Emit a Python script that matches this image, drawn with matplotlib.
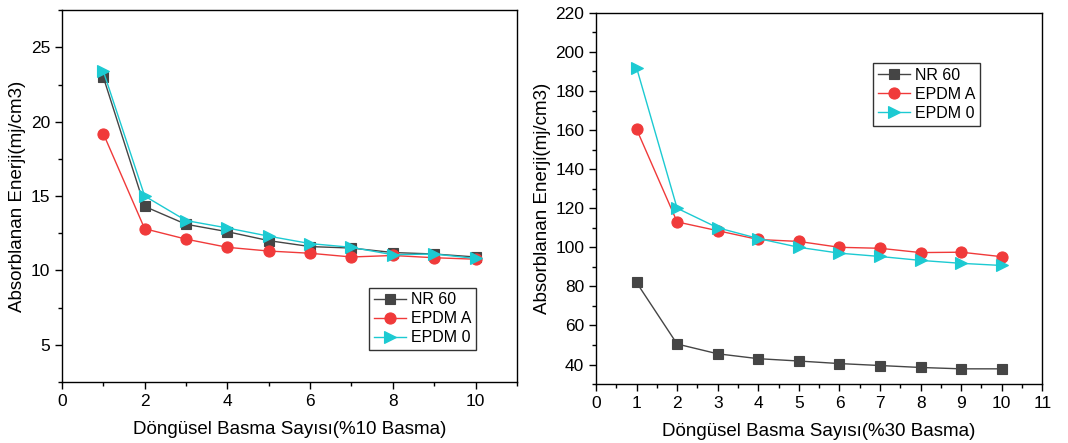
import matplotlib
matplotlib.use("Agg")
import matplotlib.pyplot as plt
from matplotlib.ticker import MultipleLocator

plt.rcParams['font.family'] = ['Liberation Sans', 'DejaVu Sans']

cycles = [1, 2, 3, 4, 5, 6, 7, 8, 9, 10]
series_names = ["NR 60", "EPDM A", "EPDM 0"]

# %10 Basma
left_nr60 = [23.0, 14.3, 13.1, 12.6, 12.0, 11.6, 11.5, 11.2, 11.1, 10.9]
left_epdma = [19.2, 12.8, 12.1, 11.55, 11.3, 11.15, 10.9, 11.0, 10.85, 10.75]
left_epdm0 = [23.4, 15.0, 13.35, 12.85, 12.3, 11.8, 11.55, 11.05, 11.1, 10.8]

# %30 Basma
right_nr60 = [82.0, 50.5, 45.5, 43.0, 41.8, 40.5, 39.5, 38.5, 37.8, 37.8]
right_epdma = [160.5, 113.0, 108.5, 104.0, 103.0, 100.0, 99.5, 97.3, 97.5, 95.2]
right_epdm0 = [192.0, 120.0, 110.0, 104.5, 100.0, 97.0, 95.3, 93.3, 91.8, 90.7]

colors = ["#454545", "#f03a3a", "#1ccad2"]
markers = ["s", "o", ">"]
msizes = [7, 8, 8]

fig = plt.figure(figsize=(10.68, 4.43), dpi=100)
ax1 = fig.add_axes([0.058, 0.138, 0.426, 0.839])
ax2 = fig.add_axes([0.558, 0.133, 0.418, 0.838])

def draw(ax, data):
    for vals, name, c, m, ms in zip(data, series_names, colors, markers, msizes):
        ax.plot(cycles, vals, color=c, marker=m, markersize=ms, linewidth=1.0,
                label=name, markeredgewidth=0.8)
    for sp in ax.spines.values():
        sp.set_linewidth(1.0)
    ax.tick_params(which='major', direction='out', length=5, width=1, labelsize=12.5)
    ax.tick_params(which='minor', direction='out', length=3, width=1)

draw(ax1, [left_nr60, left_epdma, left_epdm0])
ax1.set_xlim(0, 11)
ax1.set_ylim(2.5, 27.5)
ax1.xaxis.set_major_locator(MultipleLocator(2))
ax1.xaxis.set_minor_locator(MultipleLocator(1))
ax1.yaxis.set_major_locator(MultipleLocator(5))
ax1.yaxis.set_minor_locator(MultipleLocator(2.5))
ax1.set_xticks([0, 2, 4, 6, 8, 10])
ax1.set_yticks([5, 10, 15, 20, 25])
ax1.set_xlabel("Döngüsel Basma Sayısı(%10 Basma)", fontsize=13.5, labelpad=9)
ax1.set_ylabel("Absorblanan Enerji(mj/cm3)", fontsize=13.5, labelpad=3)
leg1 = ax1.legend(loc='lower right', bbox_to_anchor=(0.91, 0.085), fontsize=11.5,
                  frameon=True, fancybox=False, edgecolor='black', handlelength=2.0,
                  borderpad=0.3, labelspacing=0.25, handletextpad=0.3, borderaxespad=0)
leg1.get_frame().set_linewidth(1.0)

draw(ax2, [right_nr60, right_epdma, right_epdm0])
ax2.set_xlim(0, 11)
ax2.set_ylim(30, 220)
ax2.xaxis.set_major_locator(MultipleLocator(1))
ax2.xaxis.set_minor_locator(MultipleLocator(0.5))
ax2.yaxis.set_major_locator(MultipleLocator(20))
ax2.yaxis.set_minor_locator(MultipleLocator(10))
ax2.set_yticks([40, 60, 80, 100, 120, 140, 160, 180, 200, 220])
ax2.set_xlabel("Döngüsel Basma Sayısı(%30 Basma)", fontsize=13.5, labelpad=9)
ax2.set_ylabel("Absorblanan Enerji(mj/cm3)", fontsize=13.5, labelpad=3)
leg2 = ax2.legend(loc='upper right', bbox_to_anchor=(0.86, 0.865), fontsize=11.5,
                  frameon=True, fancybox=False, edgecolor='black', handlelength=2.0,
                  borderpad=0.3, labelspacing=0.25, handletextpad=0.3, borderaxespad=0)
leg2.get_frame().set_linewidth(1.0)

fig.savefig("out.png", dpi=100)
